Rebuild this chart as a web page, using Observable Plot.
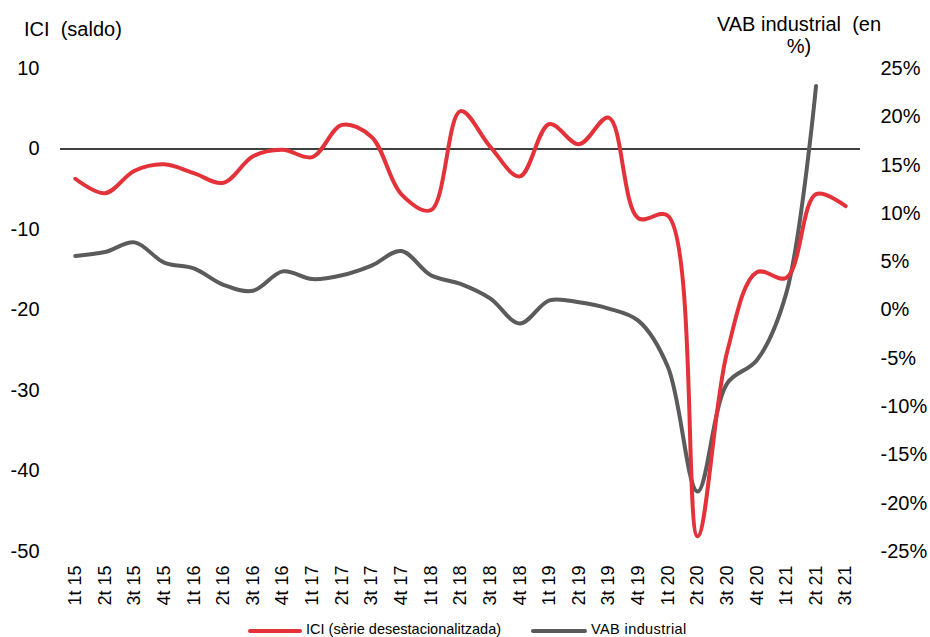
<!DOCTYPE html>
<html>
<head>
<meta charset="utf-8">
<script src="https://cdn.jsdelivr.net/npm/d3@7"></script>
<script src="https://cdn.jsdelivr.net/npm/@observablehq/plot@0.6"></script>
<style>
  html, body { margin: 0; padding: 0; background: #fff; }
  #wrap { position: relative; width: 930px; height: 637px; overflow: hidden; font-family: "Liberation Sans", Arial, sans-serif; color: #000; }
  .lbl { position: absolute; font-size: 20px; line-height: 22px; white-space: nowrap; }
  .leg { position: absolute; font-size: 14.5px; white-space: nowrap; top: 621px; }
  .sw { position: absolute; height: 4px; border-radius: 2px; top: 629px; }
</style>
</head>
<body>
<div id="wrap">
  <div id="chart"></div>
  <div class="lbl" style="left:24px; top:18px;">ICI&nbsp; (saldo)</div>
  <div class="lbl" style="left:699px; top:13px; width:200px; text-align:center;">VAB industrial&nbsp; (en<br>%)</div>
  <div class="sw" style="left:248px; width:54px; background:#e3323a;"></div>
  <div class="leg" style="left:306px;">ICI (sèrie desestacionalitzada)</div>
  <div class="sw" style="left:531px; width:56px; background:#5b5b5b;"></div>
  <div class="leg" style="left:591px; letter-spacing:0.4px;">VAB industrial</div>
</div>
<script>
const categories = ["1t 15","2t 15","3t 15","4t 15","1t 16","2t 16","3t 16","4t 16","1t 17","2t 17","3t 17","4t 17","1t 18","2t 18","3t 18","4t 18","1t 19","2t 19","3t 19","4t 19","1t 20","2t 20","3t 20","4t 20","1t 21","2t 21","3t 21"];
const ici = [-3.7,-5.5,-2.7,-1.9,-3.0,-4.2,-0.9,-0.1,-1.0,3.0,1.5,-5.6,-7.6,4.7,0.3,-3.4,3.1,0.6,3.9,-8.6,-8.3,-48.1,-25.2,-15.3,-16.0,-5.6,-7.1];
const vab = [5.6,6.0,7.0,4.9,4.3,2.6,2.0,4.0,3.2,3.6,4.6,6.1,3.6,2.7,1.2,-1.4,1.0,0.8,0.15,-1.1,-5.9,-18.8,-7.6,-5.2,1.8,23.2,null];
const leftTicks = [10,0,-10,-20,-30,-40,-50];
const rightTicks = [25,20,15,10,5,0,-5,-10,-15,-20,-25];

// map right-axis percentages onto the left scale: 25% <-> 10, -25% <-> -50
const toLeft = v => -20 + v * 1.2;
const fromLeft = y => Math.round((y + 20) / 1.2);

const iciData = categories.map((c, i) => ({c, v: ici[i]}));
const vabData = categories.map((c, i) => ({c, v: vab[i] == null ? null : toLeft(vab[i])})).filter(d => d.v != null);

const chart = Plot.plot({
  width: 930,
  height: 637,
  marginLeft: 60,
  marginRight: 70,
  marginTop: 68,
  marginBottom: 86,
  style: {fontFamily: "Liberation Sans, Arial, sans-serif", fontSize: "18px", color: "#000", background: "#fff"},
  x: {type: "point", domain: categories, padding: 0.5, round: false},
  y: {domain: [-50, 10]},
  marks: [
    Plot.ruleY([0], {stroke: "#000", strokeWidth: 1.5}),
    Plot.axisY({ticks: leftTicks, tickFormat: d => String(d), tickSize: 0, tickPadding: 21, label: null, line: true, stroke: "#000", fontSize: 20}),
    Plot.axisY({anchor: "right", ticks: rightTicks.map(toLeft), tickFormat: d => fromLeft(d) + "%", tickSize: 0, tickPadding: 20, label: null, line: true, stroke: "#000", fontSize: 20}),
    Plot.axisX({tickRotate: -90, tickSize: 0, tickPadding: 14, label: null, fontSize: 18}),
    Plot.line(vabData, {x: "c", y: "v", stroke: "#5b5b5b", strokeWidth: 4, curve: "catmull-rom"}),
    Plot.line(iciData, {x: "c", y: "v", stroke: "#e3323a", strokeWidth: 4, curve: "catmull-rom"})
  ]
});
document.getElementById("chart").appendChild(chart);
</script>
</body>
</html>
